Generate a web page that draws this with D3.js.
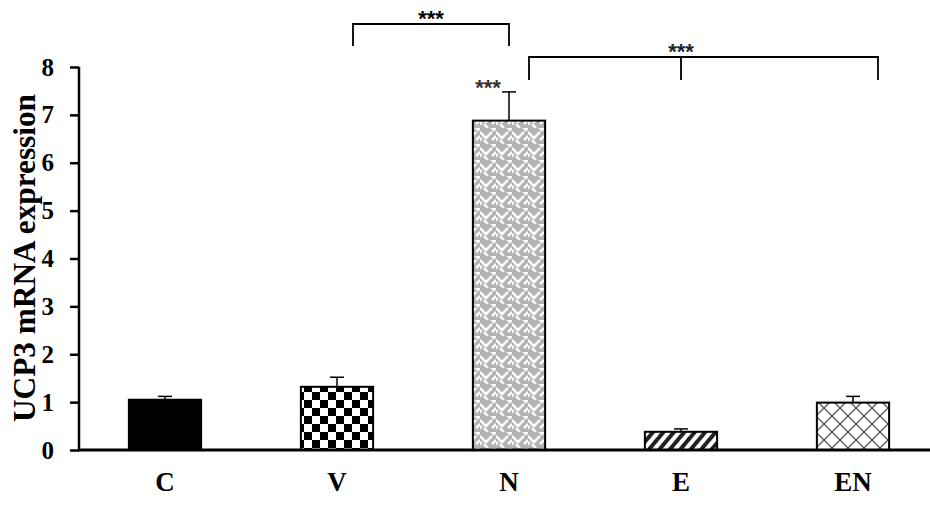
<!DOCTYPE html>
<html>
<head>
<meta charset="utf-8">
<script src="https://cdn.jsdelivr.net/npm/d3@7"></script>
<style>
  body { margin: 0; background: #fff; }
  text { font-family: "Liberation Serif", "Times New Roman", serif; font-weight: bold; }
</style>
</head>
<body>
<script>
// groups, means and upper error bars
var groups = ["C", "V", "N", "E", "EN"];
var means = [1.05, 1.32, 6.88, 0.38, 0.99];
var errors = [0.07, 0.2, 0.6, 0.06, 0.13];
var yTicks = [0, 1, 2, 3, 4, 5, 6, 7, 8];
var fills = ["#000", "url(#checker)", "url(#weave)", "url(#stripe)", "url(#cross)"];

var width = 930, height = 508;

var svg = d3.select("body").append("svg")
    .attr("width", width)
    .attr("height", height);

var x = d3.scaleBand()
    .domain(groups)
    .range([79, 939])
    .paddingInner(0.58)
    .paddingOuter(0.29);

var y = d3.scaleLinear()
    .domain([0, 8])
    .range([450, 67]);

// patterns
var defs = svg.append("defs");

var checker = defs.append("pattern")
    .attr("id", "checker").attr("patternUnits", "userSpaceOnUse")
    .attr("width", 16).attr("height", 16);
checker.append("rect").attr("width", 16).attr("height", 16).attr("fill", "#fff");
checker.append("rect").attr("width", 8).attr("height", 8).attr("fill", "#000");
checker.append("rect").attr("x", 8).attr("y", 8).attr("width", 8).attr("height", 8).attr("fill", "#000");

var weave = defs.append("pattern")
    .attr("id", "weave").attr("patternUnits", "userSpaceOnUse")
    .attr("width", 16).attr("height", 16);
weave.append("rect").attr("width", 16).attr("height", 16).attr("fill", "#b4b4b4");
weave.append("path")
    .attr("d", "M0,4 L6,10 L12,4 M4,12 L8,16 M-2,14 L2,10 M10,-2 L14,2 L16,0 M12,12 L16,8")
    .attr("stroke", "#fff").attr("stroke-width", 2.4).attr("fill", "none");

var stripe = defs.append("pattern")
    .attr("id", "stripe").attr("patternUnits", "userSpaceOnUse")
    .attr("width", 8).attr("height", 8)
    .attr("patternTransform", "rotate(40)");
stripe.append("rect").attr("width", 8).attr("height", 8).attr("fill", "#fff");
stripe.append("rect").attr("width", 4).attr("height", 8).attr("fill", "#222");

var cross = defs.append("pattern")
    .attr("id", "cross").attr("patternUnits", "userSpaceOnUse")
    .attr("width", 16).attr("height", 16);
cross.append("rect").attr("width", 16).attr("height", 16).attr("fill", "#fff");
cross.append("path")
    .attr("d", "M0,0 L16,16 M16,0 L0,16")
    .attr("stroke", "#555").attr("stroke-width", 1.3);

// bars
svg.selectAll("rect.bar")
    .data(groups)
    .enter()
    .append("rect")
    .attr("class", "bar")
    .attr("x", function(d) { return x(d) })
    .attr("width", x.bandwidth())
    .attr("y", function(d, i) { return y(means[i]) })
    .attr("height", function(d, i) { return y(0) - y(means[i]) })
    .attr("fill", function(d, i) { return fills[i] })
    .attr("stroke", "#000")
    .attr("stroke-width", 2);

// error bars (upper only)
var err = svg.selectAll("g.err")
    .data(groups)
    .enter()
    .append("g")
    .attr("class", "err")
    .attr("stroke", "#000")
    .attr("stroke-width", 1.5);

err.append("line")
    .attr("x1", function(d) { return x(d) + x.bandwidth() / 2 })
    .attr("x2", function(d) { return x(d) + x.bandwidth() / 2 })
    .attr("y1", function(d, i) { return y(means[i]) })
    .attr("y2", function(d, i) { return y(means[i] + errors[i]) });

err.append("line")
    .attr("x1", function(d) { return x(d) + x.bandwidth() / 2 - 7 })
    .attr("x2", function(d) { return x(d) + x.bandwidth() / 2 + 7 })
    .attr("y1", function(d, i) { return y(means[i] + errors[i]) })
    .attr("y2", function(d, i) { return y(means[i] + errors[i]) });

// y axis
var yAxis = svg.append("g")
    .attr("transform", "translate(79,0)")
    .call(d3.axisLeft(y).tickValues(yTicks).tickSize(9).tickPadding(16));
yAxis.select(".domain").attr("stroke-width", 2.5).attr("d", "M0," + y(8) + "V" + y(0));
yAxis.selectAll(".tick line").attr("stroke-width", 2.5);
yAxis.selectAll(".tick text")
    .style("font-family", "Liberation Serif, serif")
    .style("font-weight", "bold")
    .style("font-size", "25px")
    .attr("fill", "#000");

// x axis
var xAxis = svg.append("g")
    .attr("transform", "translate(0,450)")
    .call(d3.axisBottom(x).tickSize(0).tickPadding(22));
xAxis.select(".domain").attr("stroke-width", 3).attr("d", "M78,0H930");
xAxis.selectAll(".tick text")
    .style("font-family", "Liberation Serif, serif")
    .style("font-weight", "bold")
    .style("font-size", "27px")
    .attr("fill", "#000");

// y title
svg.append("text")
    .attr("transform", "translate(35,258) rotate(-90)")
    .attr("text-anchor", "middle")
    .attr("textLength", 328)
    .attr("lengthAdjust", "spacingAndGlyphs")
    .style("font-size", "31px")
    .text("UCP3 mRNA expression");

// significance brackets
function cx(g) { return x(g) + x.bandwidth() / 2 }

function stars(xp, yp, color) {
  svg.append("text")
      .attr("x", xp).attr("y", yp)
      .attr("text-anchor", "middle").style("font-size", "22px")
      .style("font-family", "Liberation Sans, Arial, sans-serif")
      .attr("fill", color)
      .text("***");
}

svg.append("path")
    .attr("d", "M" + (cx("V") + 16) + ",46V24H" + cx("N") + "V46")
    .attr("fill", "none").attr("stroke", "#000").attr("stroke-width", 1.8);
stars((cx("V") + 16 + cx("N")) / 2, 26, "#000");

var left = cx("N") + 20, right = cx("EN") + 25;
svg.append("path")
    .attr("d", "M" + left + ",80V57H" + right + "V80M" + cx("E") + ",57V80")
    .attr("fill", "none").attr("stroke", "#000").attr("stroke-width", 1.8);
stars(cx("E"), 59, "#222");

stars(cx("N") - 21, 95, "#333");
</script>
</body>
</html>
